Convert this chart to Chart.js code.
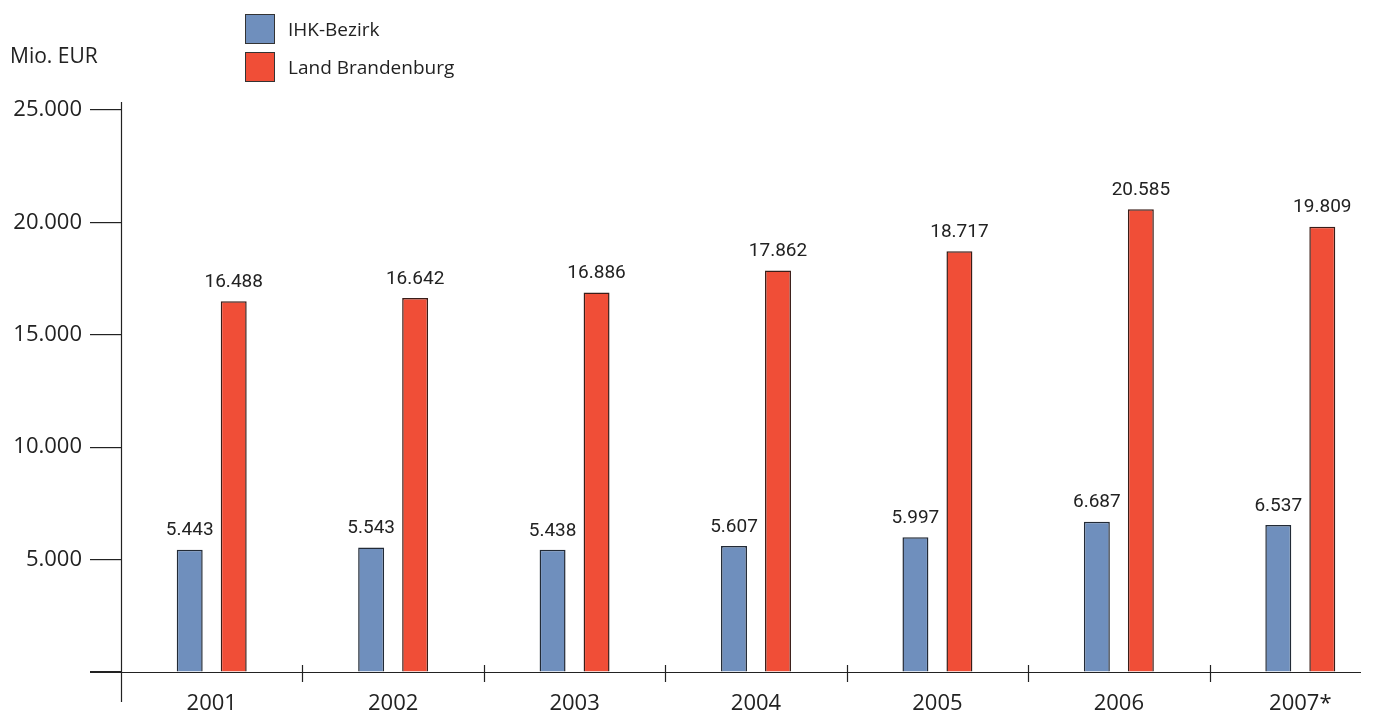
<!DOCTYPE html>
<html>
<head>
<meta charset="utf-8">
<script src="https://cdn.jsdelivr.net/npm/chart.js@4"></script>
<style>
  html, body { margin: 0; padding: 0; background: #fff; overflow: hidden; }
  #wrap { position: relative; width: 1391px; height: 718px; }
  #c { position: absolute; left: 0; top: 0; }
  #unit { position: absolute; left: 10px; top: 41px; font: 21px "Open Sans", sans-serif; color: #222; }
  #legend { position: absolute; left: 245px; top: 14px; font: 19px "Open Sans", sans-serif; color: #222; }
  .li { display: flex; align-items: center; height: 30px; margin-bottom: 8px; }
  .sw { width: 28px; height: 28px; border: 1px solid #333; margin-right: 13px; }
</style>
</head>
<body>
<div id="wrap">
  <canvas id="c" width="1391" height="718"></canvas>
  <div id="unit">Mio. EUR</div>
  <div id="legend"></div>
</div>
<script>
const years = ['2001', '2002', '2003', '2004', '2005', '2006', '2007*'];
const ihkBezirk = [5443, 5543, 5438, 5607, 5997, 6687, 6537];
const landBrandenburg = [16488, 16642, 16886, 17862, 18717, 20585, 19809];
const yTicks = [0, 5000, 10000, 15000, 20000, 25000];
const seriesNames = ['IHK-Bezirk', 'Land Brandenburg'];
const seriesColors = ['#6f8fbd', '#f04e37'];

const fmt = v => v.toLocaleString('de-DE');

const decor = {
  id: 'decor',
  afterDraw(chart) {
    const ctx = chart.ctx;
    const a = chart.chartArea;
    const xs = chart.scales.x;
    ctx.save();
    ctx.strokeStyle = '#222';
    ctx.lineWidth = 1.2;
    // x axis line
    ctx.beginPath();
    ctx.moveTo(a.left - 31, a.bottom + 0.5);
    ctx.lineTo(a.right - 30, a.bottom + 0.5);
    ctx.stroke();
    // y axis line
    ctx.beginPath();
    ctx.moveTo(a.left + 0.5, a.top - 8);
    ctx.lineTo(a.left + 0.5, a.bottom + 30);
    ctx.stroke();
    // category separator ticks
    for (let i = 1; i < years.length; i++) {
      const x = Math.round((xs.getPixelForValue(i - 1) + xs.getPixelForValue(i)) / 2) + 0.5;
      ctx.beginPath();
      ctx.moveTo(x, a.bottom - 7);
      ctx.lineTo(x, a.bottom + 10);
      ctx.stroke();
    }
    // value labels
    ctx.fillStyle = '#222';
    ctx.font = '19px Roboto, "Liberation Sans", sans-serif';
    ctx.textAlign = 'center';
    ctx.textBaseline = 'middle';
    chart.data.datasets.forEach((ds, di) => {
      const meta = chart.getDatasetMeta(di);
      meta.data.forEach((bar, i) => {
        ctx.fillText(fmt(ds.data[i]), bar.x, bar.y - 19);
      });
    });
    ctx.restore();
  }
};

const chart = new Chart(document.getElementById('c'), {
  type: 'bar',
  data: {
    labels: years,
    datasets: [
      { label: seriesNames[0], data: ihkBezirk, backgroundColor: seriesColors[0], borderColor: '#222a36', borderWidth: 1.5 },
      { label: seriesNames[1], data: landBrandenburg, backgroundColor: seriesColors[1], borderColor: '#3a1d18', borderWidth: 1.5 }
    ]
  },
  options: {
    responsive: false,
    animation: false,
    devicePixelRatio: 1,
    layout: { padding: { left: 10, top: 110, right: 0, bottom: 0 } },
    datasets: { bar: { categoryPercentage: 0.485, barPercentage: 0.59 } },
    plugins: { legend: { display: false }, tooltip: { enabled: false } },
    scales: {
      x: {
        offset: true,
        border: { display: false },
        grid: { display: false, drawTicks: false },
        ticks: { padding: 19, color: '#222', font: { family: '"Open Sans", sans-serif', size: 22 } },
        afterFit(s) { s.height = 46; }
      },
      y: {
        min: 0, max: 25000,
        border: { display: false },
        afterBuildTicks(s) { s.ticks = yTicks.map(v => ({ value: v })); },
        grid: { drawOnChartArea: false, drawTicks: true, tickLength: 31, color: '#222', lineWidth: 1.2 },
        ticks: {
          padding: 8, color: '#222',
          font: { family: '"Open Sans", sans-serif', size: 22 },
          callback: v => v === 0 ? '' : fmt(v)
        },
        afterFit(s) { s.width = 111; }
      }
    }
  },
  plugins: [decor]
});

// HTML legend from chart datasets
const lg = document.getElementById('legend');
chart.data.datasets.forEach(ds => {
  const row = document.createElement('div');
  row.className = 'li';
  const sw = document.createElement('div');
  sw.className = 'sw';
  sw.style.background = ds.backgroundColor;
  const tx = document.createElement('span');
  tx.textContent = ds.label;
  row.appendChild(sw);
  row.appendChild(tx);
  lg.appendChild(row);
});
</script>
</body>
</html>
